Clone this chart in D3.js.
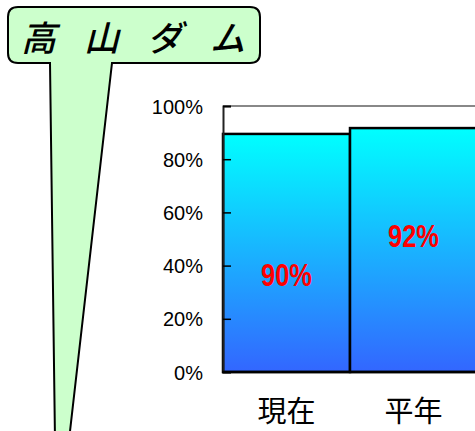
<!DOCTYPE html>
<html><head><meta charset="utf-8">
<script src="https://cdn.jsdelivr.net/npm/d3@7"></script>
<style>body{margin:0;background:#fff;}svg{display:block;}</style>
</head><body>
<svg id="c" width="475" height="431"></svg>
<script>
const title = "高山ダム";
const categories = ["現在", "平年"];
const values = [89.5, 91.7];
const valueLabels = ["90%", "92%"];
const yTicks = [0, 20, 40, 60, 80, 100];

const svg = d3.select("#c");
const defs = svg.append("defs");
const grad = defs.append("linearGradient").attr("id","g").attr("x1",0).attr("y1",0).attr("x2",0).attr("y2",1);
grad.append("stop").attr("offset","0%").attr("stop-color","#00FFFF");
grad.append("stop").attr("offset","100%").attr("stop-color","#3366FF");

const x = d3.scaleBand().domain(categories).range([223, 477]).padding(0);
const y = d3.scaleLinear().domain([0,100]).range([372,106]);

// plot top border
svg.append("line").attr("x1",223).attr("x2",475).attr("y1",y(100)).attr("y2",y(100))
  .attr("stroke","#888").attr("stroke-width",2);

// bars
svg.selectAll("rect.bar").data(values).enter().append("rect")
  .attr("x",(d,i)=>x(categories[i])).attr("width",x.bandwidth())
  .attr("y",d=>y(d)).attr("height",d=>y(0)-y(d))
  .attr("fill","url(#g)").attr("stroke","#000").attr("stroke-width",2.5);

// y axis
const ya = d3.axisLeft(y).tickValues(yTicks).tickSize(-8).tickPadding(20).tickFormat(d=>d+"%");
const g = svg.append("g").attr("transform","translate(223,0)").call(ya);
g.select(".domain").attr("stroke","#222").attr("stroke-width",2);
g.selectAll(".tick line").attr("stroke","#000").attr("stroke-width",1.5);
g.selectAll(".tick text").attr("font-family","Liberation Sans, Arial, sans-serif").attr("font-size",20).attr("fill","#000").attr("dy","0.35em");

// baseline
svg.append("line").attr("x1",222).attr("x2",475).attr("y1",y(0)).attr("y2",y(0)).attr("stroke","#000").attr("stroke-width",2.5);

// value labels
const labelY = [286, 247];
svg.selectAll("text.val").data(valueLabels).enter().append("text")
  .attr("transform",(d,i)=>`translate(${x(categories[i])+x.bandwidth()/2},${labelY[i]}) scale(0.82,1)`)
  .attr("text-anchor","middle").attr("fill","#FF0000").attr("font-weight","bold")
  .attr("font-family","Liberation Sans, Arial, sans-serif").attr("font-size",31)
  .text(d=>d);

// x labels
svg.selectAll("text.cat").data(categories).enter().append("text")
  .attr("x",d=>x(d)+x.bandwidth()/2).attr("y",422)
  .attr("text-anchor","middle").attr("fill","#000")
  .attr("font-family","Noto Sans CJK JP, sans-serif").attr("font-size",29)
  .text(d=>d);

// callout
const p = d3.path();
const L=8, T=7, R=260, B=63, r=10;
p.moveTo(L+r,T); p.lineTo(R-r,T); p.quadraticCurveTo(R,T,R,T+r);
p.lineTo(R,B-r); p.quadraticCurveTo(R,B,R-r,B);
p.lineTo(112,B); p.lineTo(69,440); p.lineTo(55,440); p.lineTo(50,B);
p.lineTo(L+r,B); p.quadraticCurveTo(L,B,L,B-r); p.lineTo(L,T+r); p.quadraticCurveTo(L,T,L+r,T);
p.closePath();
svg.append("path").attr("d",p.toString()).attr("fill","#CCFFCC").attr("stroke","#000").attr("stroke-width",2);

svg.append("text").attr("x",21).attr("y",51)
  .attr("font-family","Noto Sans CJK JP, sans-serif").attr("font-size",35).attr("font-style","italic").attr("font-weight",500)
  .attr("letter-spacing",28).attr("fill","#000").text(title);
</script>
</body></html>
